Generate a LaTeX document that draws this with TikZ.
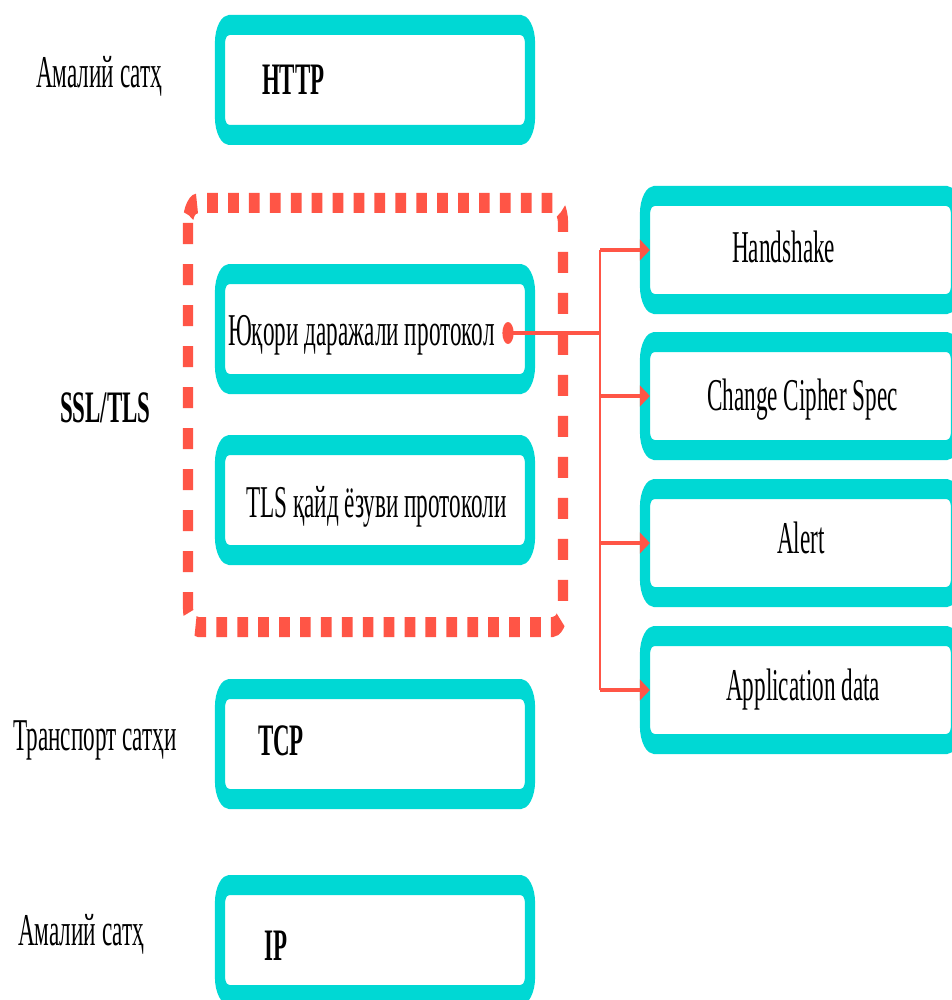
\documentclass[tikz,border=0pt]{standalone}
\usepackage{fontspec}
\setmainfont{Liberation Serif}
\usetikzlibrary{arrows.meta}
\definecolor{tcyan}{RGB}{0,216,212}
\definecolor{tred}{RGB}{255,85,70}
\begin{document}
\begin{tikzpicture}[x=1pt,y=-1pt]
\fill[white] (0,0) rectangle (951,1000);
\useasboundingbox (0,0) rectangle (951,1000);
\begin{scope}[transform canvas={xscale=0.51}, x=1.96078pt, y=-1pt,
  lbox/.style={draw=tcyan, fill=white, line width=20pt, rounded corners=18pt, rectangle,
    inner sep=0pt, outer sep=0pt, minimum width=607.8pt, minimum height=110pt},
  rbox/.style={lbox, minimum width=609.8pt, minimum height=108pt},
  txt/.style={font=\fontsize{45.5}{50}\selectfont, inner sep=0pt, anchor=base west},
  btxt/.style={txt, font=\fontsize{45}{50}\selectfont\bfseries},
  conn/.style={tred, line width=4pt},
  arr/.style={conn, -{Triangle[length=20pt,width=20pt]}, shorten >=-9.8pt}]
  % dashed SSL/TLS frame
  \draw[tred, line width=20pt, dash pattern=on 21pt off 20pt, rounded corners=20pt]
    (188,203) rectangle (563,627);
  % left column boxes
  \node[lbox] (http) at (375,80) {};
  \node[lbox] (hi) at (375,329) {};
  \node[lbox] (rec) at (375,500) {};
  \node[lbox] (tcp) at (375,744) {};
  \node[lbox] (ip) at (375,940) {};
  % right column boxes
  \node[rbox] (hs) at (800.5,250) {};
  \node[rbox] (ccs) at (800.5,396) {};
  \node[rbox] (al) at (800.5,543) {};
  \node[rbox] (ad) at (800.5,690) {};
  % texts
  \node[txt] (l1) at (36,88) {Амалий сатҳ};
  \node[btxt] (t1) at (262,95) {HTTP};
  \node[btxt] (l2) at (60,422) {SSL/TLS};
  \node[txt] (t2) at (228,345) {Юқори даражали протокол};
  \node[txt] (t3) at (246,517) {TLS қайд ёзуви протоколи};
  \node[txt] (t4) at (732,262) {Handshake};
  \node[txt] (t5) at (707,410) {Change Cipher Spec};
  \node[txt] (t6) at (777,553) {Alert};
  \node[txt] (t7) at (726,700) {Application data};
  \node[txt] (l3) at (13,750) {Транспорт сатҳи};
  \node[btxt] (t8) at (258,755) {TCP};
  \node[txt] (l4) at (18,945) {Амалий сатҳ};
  \node[btxt] (t9) at (264,960) {IP};
  % connectors
  \node[circle, fill=tred, minimum size=22pt, inner sep=0pt] (dot) at (508,333) {};
  \coordinate (j) at (600,333);
  \draw[conn] (dot.center) -- (j);
  \draw[conn] (j |- hs.west) -- (j |- ad.west);
  \draw[arr] (j |- hs.west) -- (hs.west);
  \draw[arr] (j |- ccs.west) -- (ccs.west);
  \draw[arr] (j |- al.west) -- (al.west);
  \draw[arr] (j |- ad.west) -- (ad.west);
\end{scope}
\end{tikzpicture}
\end{document}
